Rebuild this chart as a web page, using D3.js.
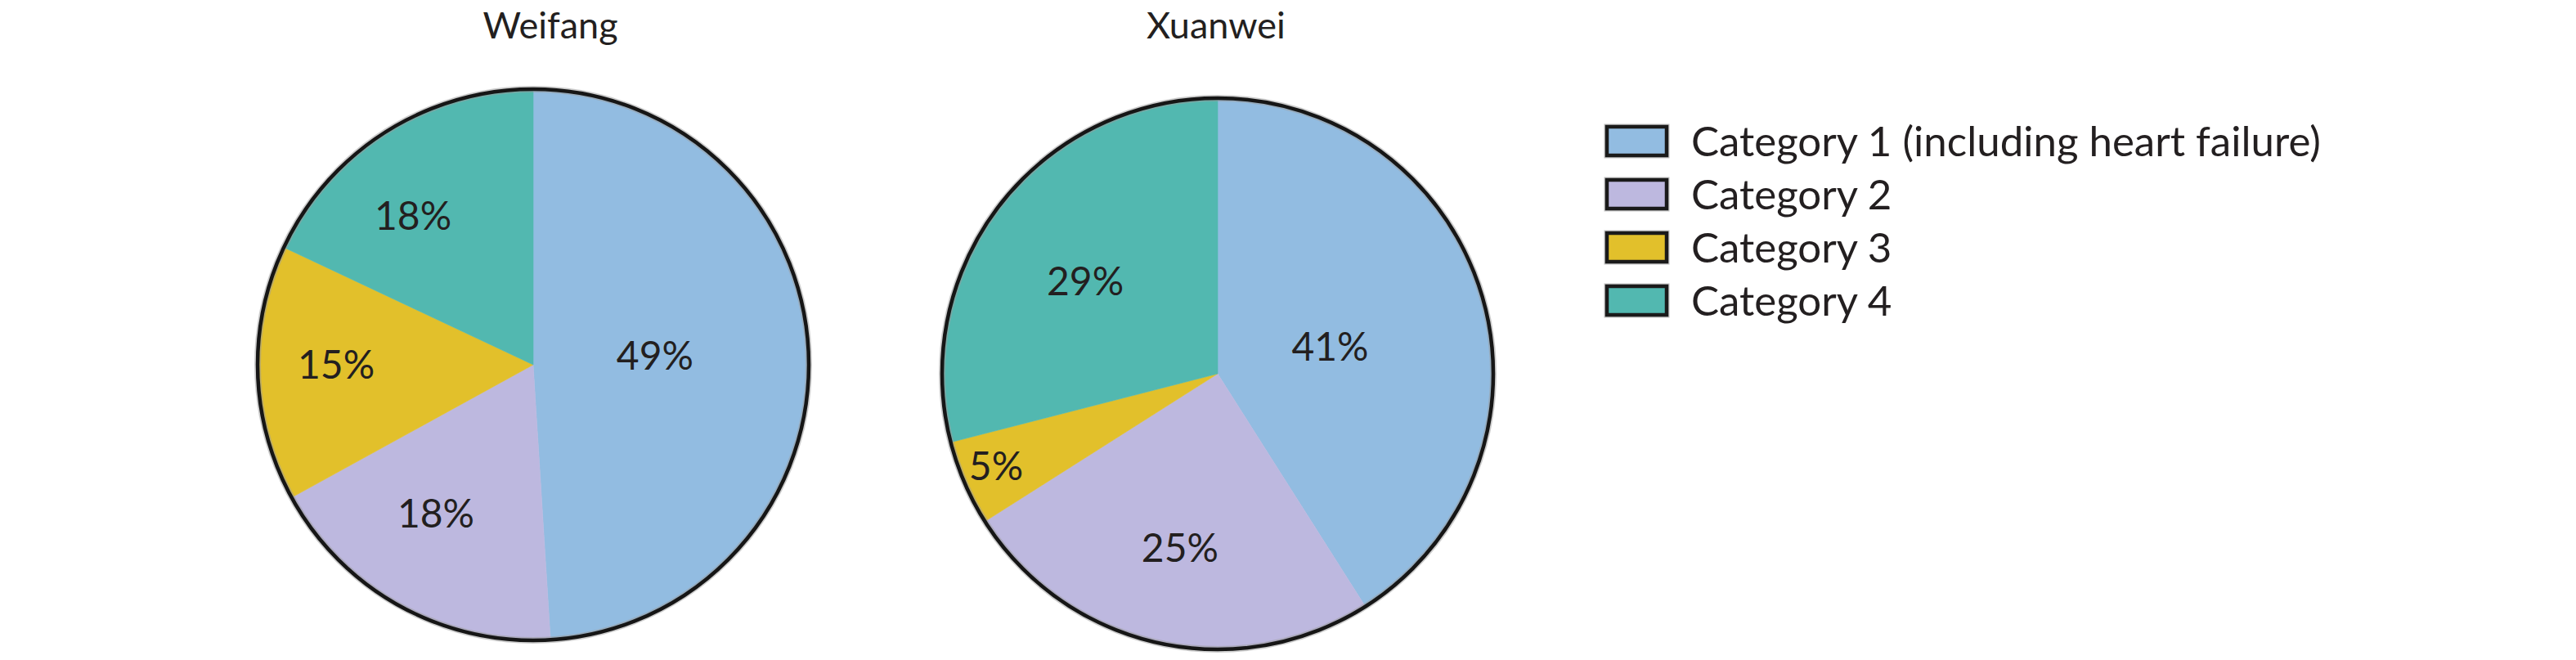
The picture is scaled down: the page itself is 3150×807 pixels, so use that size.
<!DOCTYPE html>
<html>
<head>
<meta charset="utf-8">
<script src="https://cdn.jsdelivr.net/npm/d3@7"></script>
<style>
  html, body { margin: 0; padding: 0; background: #fff; }
  svg { display: block; }
  text { font-family: Lato, "Open Sans", sans-serif; fill: #231f20; }
</style>
</head>
<body>
<svg id="chart" width="3150" height="807"></svg>
<script>
// ---- data ----
const categories = ["Category 1 (including heart failure)", "Category 2", "Category 3", "Category 4"];
const regions = ["Weifang", "Xuanwei"];
const weifangValues = [49, 18, 15, 18];
const xuanweiValues = [41, 25, 5, 29];
const colors = ["#92bce1", "#bdb8df", "#e2c02b", "#52b8b0"];

// ---- layout (not data) ----
const W = 3150, H = 807;
const R = 337;
const pieLayout = [
  { cx: 652, cy: 446, titleDx: 21 },
  { cx: 1489, cy: 457, titleDx: -2 }
];
// Excel "best fit" label placement: fraction of radius & angular nudge (deg)
const labelFit = [
  { r: [0.443, 0.645, 0.715, 0.696], nudge: [-2.4, 4.4, 1.8, -6.4] },
  { r: [0.42, 0.647, 0.871, 0.586], nudge: [2.4, -0.4, 0.8, -2.9] }
];
const seriesValues = [weifangValues, xuanweiValues];

const svg = d3.select("#chart");
const pie = d3.pie().sort(null).value(d => d);
const arc = d3.arc().innerRadius(0).outerRadius(R);
const color = d3.scaleOrdinal().domain(d3.range(categories.length)).range(colors);

regions.forEach((name, pi) => {
  const L = pieLayout[pi];
  const g = svg.append("g").attr("transform", `translate(${L.cx},${L.cy})`);
  const arcs = pie(seriesValues[pi]);

  g.selectAll("path.slice").data(arcs).enter().append("path")
    .attr("class", "slice")
    .attr("d", arc)
    .attr("fill", (d, i) => color(i))
    .attr("stroke", (d, i) => color(i))
    .attr("stroke-width", 0.6);

  // outer border with soft halo
  g.append("circle").attr("r", R).attr("fill", "none")
    .attr("stroke", "#9a9a9a").attr("stroke-width", 8).attr("opacity", 0.5);
  g.append("circle").attr("r", R).attr("fill", "none")
    .attr("stroke", "#161616").attr("stroke-width", 4.5);

  const fs = 48;
  g.selectAll("text.lbl").data(arcs).enter().append("text")
    .attr("class", "lbl")
    .attr("text-anchor", "middle")
    .attr("font-size", fs)
    .attr("x", (d, i) => {
      const a = (d.startAngle + d.endAngle) / 2 + labelFit[pi].nudge[i] * Math.PI / 180;
      return labelFit[pi].r[i] * R * Math.sin(a);
    })
    .attr("y", (d, i) => {
      const a = (d.startAngle + d.endAngle) / 2 + labelFit[pi].nudge[i] * Math.PI / 180;
      return -labelFit[pi].r[i] * R * Math.cos(a) + fs * 0.36;
    })
    .text(d => d.data + "%");

  svg.append("text")
    .attr("x", L.cx + L.titleDx)
    .attr("y", 47)
    .attr("text-anchor", "middle")
    .attr("font-size", 45)
    .text(name);
});

// ---- legend ----
const legend = svg.append("g").attr("transform", "translate(1965,155)");
const rowY = d3.scalePoint().domain(d3.range(categories.length)).range([0, 195]);
const rows = legend.selectAll("g.row").data(categories).enter().append("g")
  .attr("class", "row")
  .attr("transform", (d, i) => `translate(0,${rowY(i)})`);
rows.append("rect")
  .attr("x", 0).attr("y", 0).attr("width", 73).attr("height", 35)
  .attr("fill", (d, i) => color(i))
  .attr("stroke", "#9a9a9a").attr("stroke-width", 7).attr("opacity", 0.6);
rows.append("rect")
  .attr("x", 0).attr("y", 0).attr("width", 73).attr("height", 35)
  .attr("fill", (d, i) => color(i))
  .attr("stroke", "#1a1a1a").attr("stroke-width", 4.5);
rows.append("text")
  .attr("x", 103).attr("y", 36)
  .attr("font-size", 51)
  .text(d => d);
</script>
</body>
</html>
